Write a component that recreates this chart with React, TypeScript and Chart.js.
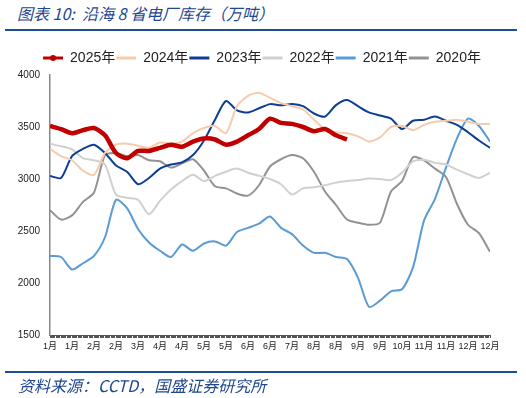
import { useEffect, useRef } from 'react';
import { Chart, registerables } from 'chart.js';

Chart.register(...registerables);

// sample day-of-year positions (every 9 days)
const days = [0, 9, 18, 27, 36, 45, 54, 63, 72, 81, 90, 99, 108, 117, 126, 135, 144, 153, 162, 171, 180, 189, 198, 207, 216, 225, 234, 243, 252, 261, 270, 279, 288, 297, 306, 315, 324, 333, 342, 351, 360];

const tickLabels = ['1月', '1月', '2月', '2月', '3月', '4月', '4月', '5月', '5月', '6月', '6月', '7月', '8月', '8月', '9月', '9月', '10月', '11月', '11月', '12月', '12月'];

const y2025 = [3510, 3480, 3440, 3470, 3490, 3420, 3250, 3200, 3270, 3270, 3300, 3330, 3310, 3360, 3390, 3380, 3330, 3360, 3420, 3480, 3580, 3540, 3530, 3500, 3460, 3480, 3420, 3380];
const y2024 = [3290, 3220, 3180, 3080, 3040, 3250, 3330, 3340, 3320, 3300, 3350, 3340, 3360, 3440, 3490, 3510, 3440, 3700, 3800, 3830, 3780, 3730, 3700, 3670, 3570, 3480, 3450, 3440, 3410, 3360, 3400, 3500, 3510, 3470, 3520, 3550, 3560, 3570, 3550, 3530, 3530];
const y2023 = [3030, 3010, 3220, 3290, 3330, 3250, 3130, 3070, 2950, 3010, 3100, 3140, 3160, 3230, 3370, 3570, 3750, 3660, 3640, 3680, 3720, 3710, 3720, 3700, 3630, 3600, 3710, 3760, 3700, 3640, 3610, 3580, 3480, 3560, 3570, 3600, 3560, 3520, 3450, 3370, 3300];
const y2022 = [3340, 3315, 3285, 3200, 3180, 3140, 2850, 2820, 2800, 2660, 2790, 2900, 2980, 3040, 2980, 3030, 3070, 3100, 3060, 3030, 3000, 2950, 2850, 2910, 2920, 2940, 2965, 2980, 2990, 3005, 3000, 2990, 3060, 3170, 3185, 3155, 3140, 3090, 3045, 3010, 3060];
const y2021 = [2260, 2250, 2130, 2190, 2260, 2440, 2800, 2720, 2520, 2390, 2310, 2250, 2370, 2310, 2380, 2400, 2360, 2490, 2530, 2570, 2640, 2530, 2470, 2360, 2290, 2290, 2250, 2230, 2050, 1770, 1830, 1920, 1940, 2150, 2600, 2810, 3110, 3390, 3580, 3510, 3360];
const y2020 = [2700, 2610, 2650, 2780, 2870, 3230, 3250, 3220, 3230, 3180, 3170, 3110, 3150, 3190, 3080, 2930, 2910, 2860, 2840, 2940, 3120, 3190, 3230, 3200, 3070, 2880, 2750, 2610, 2580, 2560, 2580, 2880, 2980, 3210, 3180, 3100, 3020, 2760, 2560, 2480, 2300];

const seriesNames = ['2025年', '2024年', '2023年', '2022年', '2021年', '2020年'];
const seriesValues = [y2025, y2024, y2023, y2022, y2021, y2020];
const seriesColors = ['#c00000', '#f8cbad', '#0b3f94', '#d0d0d0', '#5b9bd5', '#929292'];
const seriesWidths = [4.5, 2, 2, 2, 2, 2];

const tickDays = Array.from({ length: 361 }, (_, i) => i);
const LEGEND_SHIFT = 13;

const legendShift = {
  id: 'legendShift',
  afterLayout(c: any) {
    const l = c.legend;
    if (l) {
      l.left += LEGEND_SHIFT;
      l.right += LEGEND_SHIFT;
    }
  },
  afterDraw(c: any) {
    const l = c.legend;
    if (!l || !l.legendHitBoxes || !l.legendHitBoxes[0]) return;
    const hb = l.legendHitBoxes[0];
    const ctx = c.ctx;
    ctx.save();
    ctx.fillStyle = seriesColors[0];
    ctx.beginPath();
    ctx.arc(hb.left + 10, hb.top + hb.height / 2, 3, 0, Math.PI * 2);
    ctx.fill();
    ctx.restore();
  },
};

export default function App() {
  const ref = useRef<HTMLCanvasElement>(null);

  useEffect(() => {
    if (!ref.current) return;
    Chart.defaults.font.family = '"Liberation Sans", Arial, "Noto Sans CJK SC", sans-serif';
    const defaultGen = (Chart.defaults as any).plugins.legend.labels.generateLabels;
    const chart = new Chart(ref.current, {
      type: 'line',
      data: {
        datasets: seriesNames.map((name, k) => ({
          label: name,
          data: seriesValues[k].map((v, i) => ({ x: days[i], y: v })),
          borderColor: seriesColors[k],
          backgroundColor: seriesColors[k],
          borderWidth: seriesWidths[k],
          pointRadius: 0,
          tension: 0.25,
          fill: false,
        })),
      },
      plugins: [legendShift],
      options: {
        responsive: false,
        animation: false,
        layout: { padding: { left: 8, right: 36, top: 50, bottom: 0 } },
        plugins: {
          legend: {
            display: true,
            position: 'top',
            labels: {
              boxWidth: 20,
              boxHeight: 3,
              padding: 1,
              color: '#222',
              font: { size: 14 },
              generateLabels: (ch: any) =>
                defaultGen(ch).map((it: any) => ({ ...it, lineWidth: 0, strokeStyle: 'rgba(0,0,0,0)' })),
            },
          },
          tooltip: { enabled: false },
        },
        scales: {
          x: {
            type: 'linear',
            min: 0,
            max: 360,
            afterBuildTicks: (scale: any) => {
              scale.ticks = tickDays.map((v) => ({ value: v }));
            },
            afterFit: (scale: any) => {
              scale.height = 63;
            },
            ticks: {
              autoSkip: false,
              maxRotation: 0,
              minRotation: 0,
              padding: 3,
              color: '#222',
              font: { size: 9 },
              callback: (value: any) => {
                const v = Number(value);
                return v % 18 === 0 ? tickLabels[v / 18] : '';
              },
            },
            grid: {
              drawOnChartArea: false,
              drawTicks: true,
              tickLength: 3,
              color: '#555',
              lineWidth: 1,
            },
            border: { display: true, color: '#555', width: 1 },
          },
          y: {
            min: 1500,
            max: 4000,
            afterFit: (scale: any) => {
              scale.width = 42;
            },
            ticks: {
              stepSize: 500,
              padding: 10,
              color: '#222',
              font: { size: 10 },
              callback: (value: any) => String(value),
            },
            grid: { display: false, drawTicks: false },
            border: { display: true, color: '#888', width: 1.5 },
          },
        },
      },
    });
    return () => chart.destroy();
  }, []);

  const blue = '#1f4690';
  return (
    <div style={{ position: 'fixed', left: 0, top: 0, width: 526, height: 398, background: '#fff', overflow: 'hidden' }}>
      <div style={{ position: 'absolute', left: 17, top: 3, fontSize: 16, lineHeight: '20px', fontStyle: 'italic', color: blue, fontFamily: '"Noto Sans CJK SC", "Liberation Sans", sans-serif', whiteSpace: 'pre' }}>
        {'图表 10:  沿海 8 省电厂库存（万吨）'}
      </div>
      <div style={{ position: 'absolute', left: 5, top: 29, width: 512, height: 2, background: '#1f4e99' }} />
      <canvas ref={ref} width={526} height={398} style={{ position: 'absolute', left: 0, top: 0, width: 526, height: 398 }} />
      <div style={{ position: 'absolute', left: 5, top: 371, width: 512, height: 2, background: '#1f4e99' }} />
      <div style={{ position: 'absolute', left: 18, top: 375, fontSize: 16, lineHeight: '20px', fontStyle: 'italic', color: blue, fontFamily: '"Noto Sans CJK SC", "Liberation Sans", sans-serif', whiteSpace: 'pre' }}>
        {'资料来源：CCTD，国盛证券研究所'}
      </div>
    </div>
  );
}
